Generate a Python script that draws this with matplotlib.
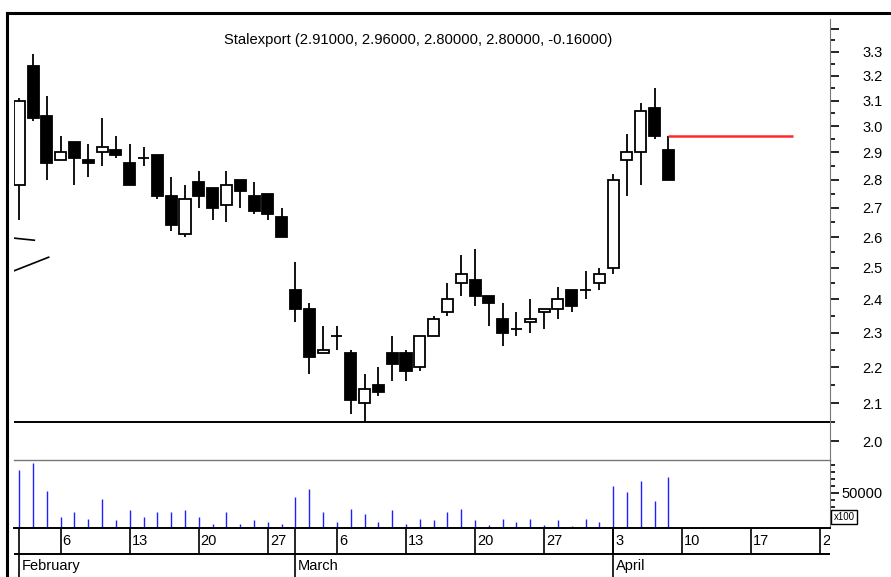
import matplotlib
matplotlib.use("Agg")
import matplotlib.pyplot as plt
from matplotlib.lines import Line2D
from matplotlib.ticker import FixedLocator, FixedFormatter, NullFormatter
from matplotlib import font_manager

names = {f.name for f in font_manager.fontManager.ttflist}
FONT = ['Liberation Sans Narrow'] if 'Liberation Sans Narrow' in names else ['Liberation Sans']
plt.rcParams['font.family'] = FONT + ['DejaVu Sans']
FS = 12 if FONT[0] == 'Liberation Sans Narrow' else 10.5

# ---------------- data ----------------
title = "Stalexport (2.91000, 2.96000, 2.80000, 2.80000, -0.16000)"
opens  = [2.78, 3.24, 3.04, 2.87, 2.94, 2.87, 2.90, 2.91, 2.86, 2.88,
          2.89, 2.74, 2.61, 2.79, 2.77, 2.71, 2.80, 2.74, 2.75, 2.67,
          2.43, 2.37, 2.24, 2.29, 2.24, 2.10, 2.15, 2.24, 2.24, 2.20,
          2.29, 2.36, 2.45, 2.46, 2.41, 2.34, 2.31, 2.33, 2.36, 2.37,
          2.43, 2.43, 2.45, 2.50, 2.87, 2.90, 3.07, 2.91]
highs  = [3.11, 3.29, 3.12, 2.96, 2.94, 2.93, 3.03, 2.96, 2.93, 2.92,
          2.89, 2.81, 2.78, 2.83, 2.77, 2.83, 2.80, 2.79, 2.75, 2.70,
          2.52, 2.39, 2.32, 2.32, 2.25, 2.18, 2.20, 2.29, 2.25, 2.29,
          2.35, 2.45, 2.54, 2.56, 2.41, 2.39, 2.36, 2.40, 2.37, 2.44,
          2.43, 2.49, 2.50, 2.82, 2.97, 3.09, 3.15, 2.96]
lows   = [2.66, 3.02, 2.80, 2.87, 2.78, 2.81, 2.85, 2.88, 2.78, 2.85,
          2.73, 2.62, 2.60, 2.70, 2.66, 2.65, 2.70, 2.68, 2.66, 2.60,
          2.33, 2.18, 2.24, 2.25, 2.07, 2.05, 2.12, 2.16, 2.16, 2.19,
          2.29, 2.35, 2.41, 2.38, 2.32, 2.26, 2.29, 2.30, 2.31, 2.34,
          2.36, 2.40, 2.43, 2.48, 2.74, 2.78, 2.95, 2.80]
closes = [3.10, 3.03, 2.86, 2.90, 2.88, 2.86, 2.92, 2.89, 2.78, 2.88,
          2.74, 2.64, 2.73, 2.74, 2.70, 2.78, 2.76, 2.69, 2.68, 2.60,
          2.37, 2.23, 2.25, 2.29, 2.11, 2.14, 2.13, 2.21, 2.19, 2.29,
          2.34, 2.40, 2.48, 2.41, 2.39, 2.30, 2.31, 2.34, 2.37, 2.40,
          2.38, 2.43, 2.48, 2.80, 2.90, 3.06, 2.96, 2.80]
volumes = [83000, 93000, 53500, 15700, 22900, 13300, 41400, 11000, 25200, 15700,
           22900, 22900, 25200, 15700, 6200, 22900, 6200, 11000, 8600, 6200,
           43800, 55700, 22900, 8600, 27600, 20500, 8600, 25200, 6200, 13300,
           11000, 22900, 27600, 11000, 3800, 13300, 8600, 13300, 3800, 11000,
           2400, 13300, 8600, 60500, 51000, 67600, 39000, 72400]

price_ticks = [2.0, 2.1, 2.2, 2.3, 2.4, 2.5, 2.6, 2.7, 2.8, 2.9, 3.0, 3.1, 3.2, 3.3, 3.4]
price_labels = ["2.0", "2.1", "2.2", "2.3", "2.4", "2.5", "2.6", "2.7", "2.8", "2.9",
                "3.0", "3.1", "3.2", "3.3", ""]
price_minor = [1.95, 2.05, 2.15, 2.25, 2.35, 2.45, 2.55, 2.65, 2.75, 2.85, 2.95,
               3.05, 3.15, 3.25, 3.35]
vol_ticks = [50000]
vol_labels = ["50000"]
vol_minor = [10000, 20000, 30000, 40000, 60000, 70000, 80000, 90000]

day_pos = [3, 8, 13, 18, 23, 28, 33, 38, 43, 48, 53, 58]
day_labels = ["6", "13", "20", "27", "6", "13", "20", "27", "3", "10", "17", "24"]
month_pos = [0, 20, 43]
month_labels = ["February", "March", "April"]

support_level = 2.05
red_level = 2.96
red_span = [47, 56]
trend1_x = [-0.38, 1.09]
trend1_y = [2.597, 2.590]
trend2_x = [-0.38, 2.13]
trend2_y = [2.49, 2.534]

# ---------------- layout ----------------
W, H = 891, 577
fig = plt.figure(figsize=(W / 100, H / 100), dpi=100)


def rect(l, t, r, b):
    return [l / W, 1 - b / H, (r - l) / W, (b - t) / H]


XL = (-0.38, 58.7)
ax = fig.add_axes(rect(14, 19, 830, 460))
axv = fig.add_axes(rect(14, 460, 830, 528))
axd = fig.add_axes(rect(14, 528, 830, 577))

# ---------------- price panel ----------------
ax.set_yscale('log')
ax.set_xlim(*XL)
ax.set_ylim(1.952, 3.443)
n = len(opens)
xs = list(range(n))
ax.vlines(xs, lows, highs, color='black', lw=1.3, zorder=2)
bw = 0.8
for i in range(n):
    o, c = opens[i], closes[i]
    fc = 'white' if c >= o else 'black'
    if abs(c - o) < 1e-9:
        ax.hlines(o, i - bw / 2, i + bw / 2, color='black', lw=1.3, zorder=3)
    else:
        ax.bar(i, abs(c - o), bottom=min(o, c), width=bw, facecolor=fc,
               edgecolor='black', linewidth=1.3, zorder=3)

ax.axhline(support_level, color='black', lw=1.4, zorder=1)
ax.hlines(red_level, red_span[0], red_span[1], color='#ff2a2a', lw=1.8, zorder=4)
ax.plot(trend1_x, trend1_y, color='black', lw=1.2)
ax.plot(trend2_x, trend2_y, color='black', lw=1.2)

ax.yaxis.tick_right()
ax.yaxis.set_major_locator(FixedLocator(price_ticks))
ax.yaxis.set_major_formatter(FixedFormatter(price_labels))
ax.yaxis.set_minor_locator(FixedLocator(price_minor))
ax.yaxis.set_minor_formatter(NullFormatter())
ax.tick_params(axis='y', which='major', direction='out', length=6.5, width=1.2,
               pad=31.5, labelsize=FS)
ax.tick_params(axis='y', which='minor', direction='out', length=3.5, width=1.2)
for lab in ax.get_yticklabels():
    lab.set_horizontalalignment('right')
ax.set_xticks([])
for s in ('top', 'left', 'bottom'):
    ax.spines[s].set_visible(False)
ax.spines['right'].set_color('#777777')
ax.spines['right'].set_linewidth(0.8)
ax.text(0.495, 0.952, title, transform=ax.transAxes, ha='center', va='center',
        fontsize=FS + 0.1)

# ---------------- volume panel ----------------
axv.set_xlim(*XL)
axv.set_ylim(0, 97140)
axv.vlines(xs, 0, volumes, color='#2020ff', lw=1.0)
axv.yaxis.tick_right()
axv.yaxis.set_major_locator(FixedLocator(vol_ticks))
axv.yaxis.set_major_formatter(FixedFormatter(vol_labels))
axv.yaxis.set_minor_locator(FixedLocator(vol_minor))
axv.yaxis.set_minor_formatter(NullFormatter())
axv.tick_params(axis='y', which='major', direction='out', length=6.5, width=1.2,
                pad=31.5, labelsize=FS)
axv.tick_params(axis='y', which='minor', direction='out', length=3.5, width=1.2)
for lab in axv.get_yticklabels():
    lab.set_horizontalalignment('right')
axv.set_xticks([])
axv.spines['left'].set_visible(False)
axv.spines['top'].set_color('#777777')
axv.spines['top'].set_linewidth(1.0)
axv.spines['right'].set_color('#777777')
axv.spines['right'].set_linewidth(0.8)
axv.spines['bottom'].set_color('black')
axv.spines['bottom'].set_linewidth(1.4)
fig.text(844 / W, 1 - 517 / H, "x100", ha='center', va='center', fontsize=7,
         bbox=dict(boxstyle='square,pad=0.25', facecolor='white', edgecolor='black', lw=1.0))

# ---------------- date axis ----------------
axd.set_xlim(*XL)
axd.set_ylim(0, 1)
axd.axis('off')
row = (577 - 554) / 49
axd.axhline(row, color='black', lw=1.4)
axd.vlines(day_pos, row, 1, color='black', lw=1.2)
axd.vlines(month_pos, 0, 1, color='black', lw=1.2)
for p, t in zip(day_pos, day_labels):
    axd.text(p + 0.14, 0.735, t, ha='left', va='center', fontsize=FS, clip_on=True)
for p, t in zip(month_pos, month_labels):
    axd.text(p + 0.18, 0.224, t, ha='left', va='center', fontsize=FS, clip_on=True)

# ---------------- outer frame ----------------
fig.add_artist(Line2D([7 / W, 1], [1 - 13 / H] * 2, transform=fig.transFigure,
                      color='black', lw=2.2))
fig.add_artist(Line2D([7 / W] * 2, [0, 1 - 13 / H], transform=fig.transFigure,
                      color='black', lw=2.2))

fig.savefig("out.png", dpi=100)
